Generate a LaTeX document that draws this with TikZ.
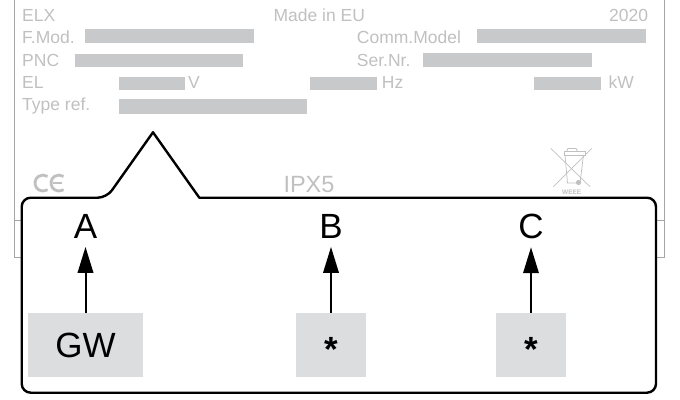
\documentclass[tikz,border=0pt]{standalone}
\usepackage{fontspec}
\setmainfont{Liberation Sans}
\usetikzlibrary{arrows.meta}
\definecolor{platetxt}{HTML}{C0C0C0}
\definecolor{platebar}{HTML}{C8C9CB}
\definecolor{plateline}{HTML}{A6A6A6}
\definecolor{boxgrey}{HTML}{DCDDDF}
\begin{document}
\begin{tikzpicture}[x=1pt,y=-1pt,
  ptxt/.style={text=platetxt,font=\fontsize{17.5}{18}\selectfont,inner sep=0pt,anchor=base west},
  pbar/.style={fill=platebar},
  plate/.style={draw=plateline,line width=1pt},
  callout/.style={draw=black,fill=white,line width=2.4pt,line join=round},
  valbox/.style={fill=boxgrey,inner sep=0pt,minimum height=64.6pt,font=\fontsize{35}{36}\selectfont},
  lbl/.style={font=\fontsize{35}{36}\selectfont,inner sep=0pt,anchor=base},
  startxt/.style={font=\fontsize{35}{36}\selectfont\bfseries,inner sep=0pt,anchor=base},
  arr/.style={line width=2pt,-{Triangle[length=26pt,width=15.5pt]},shorten >=8.4pt},
  ce/.style={draw=platetxt,line width=2.8pt},
  weee/.style={draw=platetxt,line width=0.7pt}]
\useasboundingbox (0,0) rectangle (680,399);
% plate
\draw[plate] (14.3,0) -- (14.3,257.7) -- (664.3,257.7) -- (664.3,0);
\draw[plate] (14.3,220.7) -- (664.3,220.7);
% plate texts
\node[ptxt] (elx) at (22,21.5) {ELX};
\node[ptxt] (made) at (273.3,21.5) {Made in EU};
\node[ptxt,anchor=base east] (year) at (648.3,21.5) {2020};
\node[ptxt] (fmod) at (22,43.8) {F.Mod.};
\fill[pbar] (85,29.3) rectangle (254,43.3);
\node[ptxt] (comm) at (356.7,43.8) {Comm.Model};
\fill[pbar] (476.7,29.3) rectangle (646,43.3);
\node[ptxt] (pnc) at (22,66.1) {PNC};
\fill[pbar] (75,54) rectangle (243.3,67.3);
\node[ptxt] (ser) at (356.7,66.1) {Ser.Nr.};
\fill[pbar] (422.7,53.3) rectangle (591.7,67.3);
\node[ptxt] (el) at (22,88.4) {EL};
\fill[pbar] (119.3,76.7) rectangle (185.3,90);
\node[ptxt] (volt) at (188,88.4) {V};
\fill[pbar] (310,76.7) rectangle (376.7,90);
\node[ptxt] (hz) at (381.7,88.4) {Hz};
\fill[pbar] (534,76.7) rectangle (600.7,90);
\node[ptxt] (kw) at (608.3,88.4) {kW};
\node[ptxt] (tref) at (22,110.7) {Type ref.};
\fill[pbar] (119.3,99.3) rectangle (307.3,114);
% CE mark
\draw[ce] ([shift={(55:8)}]43,183) arc[start angle=55,end angle=305,radius=8];
\draw[ce] ([shift={(55:8)}]59,183) arc[start angle=55,end angle=305,radius=8];
\draw[ce,line width=2.2pt] (52.5,183) -- (62,183);
% IPX5
\node[ptxt,font=\fontsize{23.5}{24}\selectfont,anchor=base west] (ipx) at (283.3,192.7) {IPX5};
% WEEE symbol
\draw[weee] (564,151.5) -- (585,151.5) -- (585,155) -- (564,155) -- cycle;
\draw[weee] (565,155) -- (567.5,183) -- (580,183) -- (583.5,155);
\draw[weee] (566.5,151.5) -- (568,148.5) -- (576,148.5) -- (577.5,151.5);
\fill[platetxt] (578.5,182.5) circle[radius=2.6];
\draw[weee] (550.7,148.3) -- (590,186.7);
\draw[weee] (591.7,148.3) -- (553.3,186.7);
\node[text=platetxt,font=\fontsize{6.5}{7}\selectfont\bfseries,inner sep=0pt,anchor=base] (weeetxt) at (571.7,194.5) {WEEE};
% callout
\draw[callout] (199.3,197.7) [rounded corners=9pt] -- (656,197.7) -- (656,392.7) -- (21.7,392.7) -- (21.7,197.7) -- (106.7,197.7) [sharp corners] -- (153,132.3) -- cycle;
% boxes
\node[valbox,minimum width=114.4pt] (gw) at (85.5,345) {GW};
\node[valbox,minimum width=70pt] (bx) at (331,345) {};
\node[valbox,minimum width=70pt] (cx) at (531,345) {};
\node[startxt] (sb) at (331,361.5) {*};
\node[startxt] (sc) at (531,361.5) {*};
% letters
\node[lbl] (A) at (85.5,238.3) {A};
\node[lbl] (B) at (331,238.3) {B};
\node[lbl] (C) at (531,238.3) {C};
% arrows
\draw[arr] (gw.north) -- (A.south);
\draw[arr] (bx.north) -- (B.south);
\draw[arr] (cx.north) -- (C.south);
\end{tikzpicture}
\end{document}
